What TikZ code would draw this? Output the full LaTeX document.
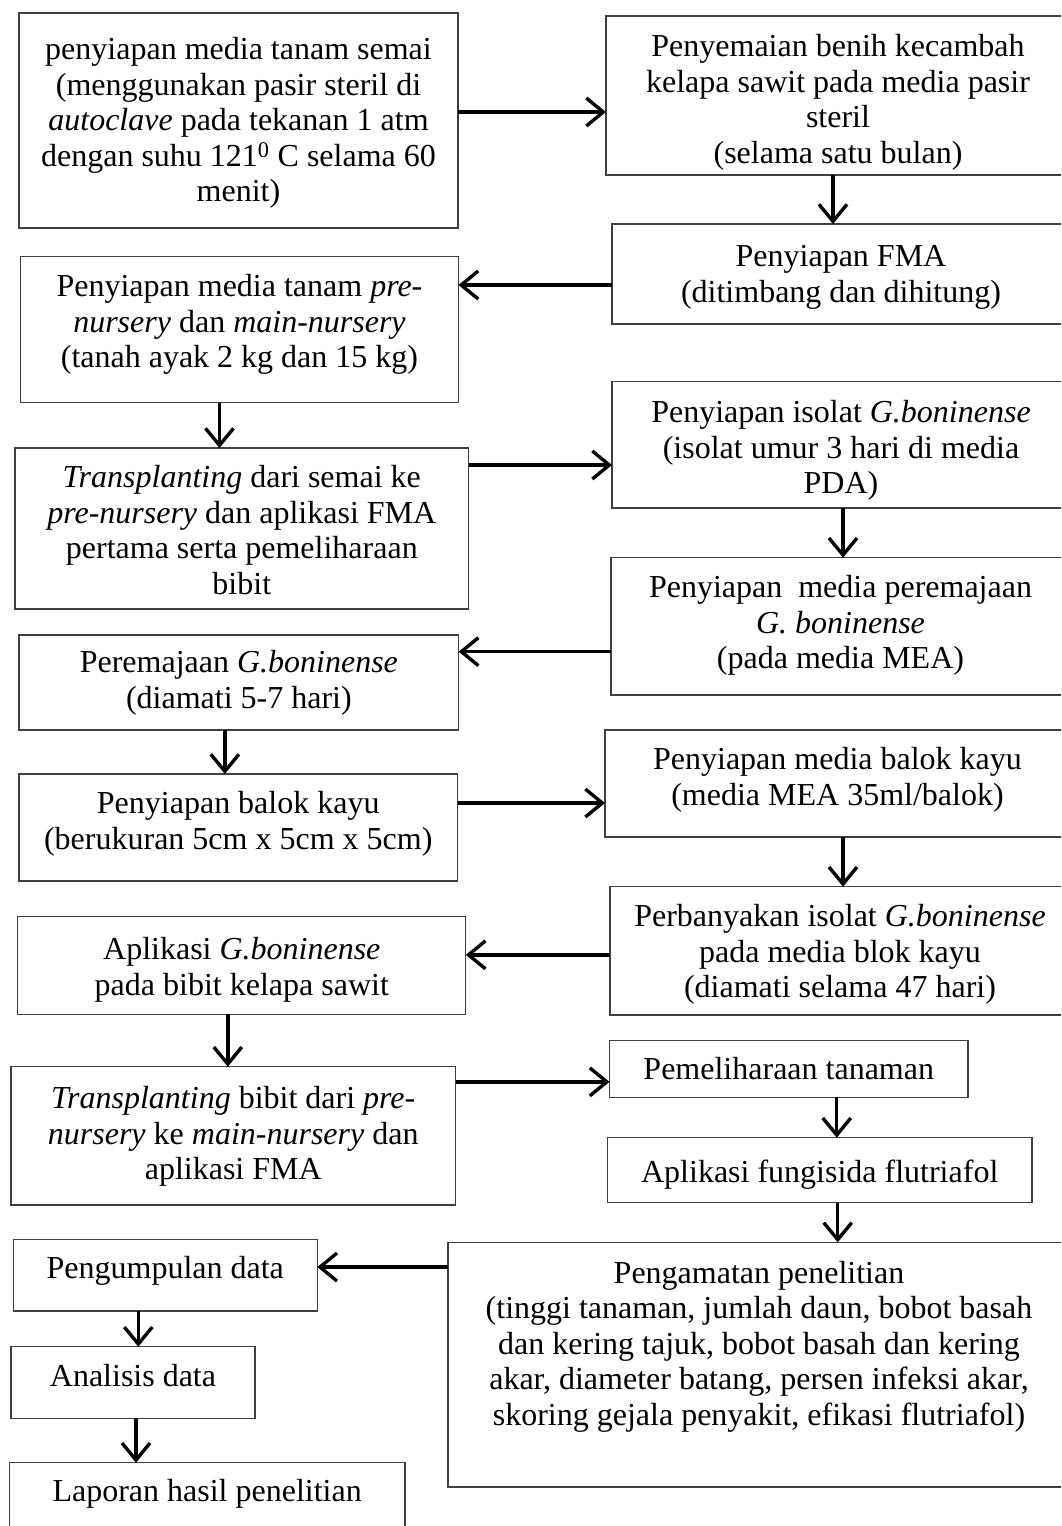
\documentclass[tikz,border=0pt]{standalone}
\usepackage{fontspec}
\setmainfont{Liberation Serif}
\usetikzlibrary{arrows.meta}
\newcommand{\boxtext}[3]{\parbox[t][#1pt][t]{#2pt}{\centering\strut #3}}

\begin{document}
\begin{tikzpicture}[
  x=1pt, y=-1pt,
  box/.style={rectangle, draw=black!75, line width=1.1pt, anchor=north west,
              inner xsep=0pt, inner ysep=13pt, outer sep=0pt,
              font=\fontsize{32pt}{35.5pt}\selectfont},
  arrow/.style={-{Straight Barb[length=17pt, width=28pt]}, line width=3.4pt},
]
\useasboundingbox (0,0) rectangle (1061,1526);
\fill[white] (0,0) rectangle (1061,1526);
\clip (0,0) rectangle (1061,1526);

% Left column
\node[box, inner ysep=22pt] (semai) at (19,13)     {\boxtext{171}{439}{penyiapan media tanam semai\\(menggunakan pasir steril di\\\textit{autoclave} pada tekanan 1 atm\\dengan suhu 121\textsuperscript{0} C selama 60\\menit)}};
\node[box, inner ysep=15pt] (mdt)   at (20.5,256.7) {\boxtext{116}{438}{Penyiapan media tanam \textit{pre-}\\\textit{nursery} dan \textit{main-nursery}\\(tanah ayak 2 kg dan 15 kg)}};
\node[box, inner ysep=15pt] (tps)   at (15,448)    {\boxtext{131}{453.6}{\textit{Transplanting} dari semai ke\\\textit{pre-nursery} dan aplikasi FMA\\pertama serta pemeliharaan\\bibit}};
\node[box]                  (prj)   at (19,635)    {\boxtext{69}{439.7}{Peremajaan \textit{G.boninense}\\(diamati 5-7 hari)}};
\node[box, inner ysep=15pt] (blk)   at (19,774)    {\boxtext{77}{438.5}{Penyiapan balok kayu\\(berukuran 5cm x 5cm x 5cm)}};
\node[box, inner ysep=18pt] (apl)   at (17.8,916.7) {\boxtext{61.6}{448}{Aplikasi \textit{G.boninense}\\pada bibit kelapa sawit}};
\node[box, inner ysep=17pt] (tpb)   at (11,1066.7) {\boxtext{104.3}{444.5}{\textit{Transplanting} bibit dari \textit{pre-}\\\textit{nursery} ke \textit{main-nursery} dan\\aplikasi FMA}};

% Right column
\node[box, inner ysep=16pt] (smn)   at (606,16)    {\boxtext{127}{464}{Penyemaian benih kecambah\\kelapa sawit pada media pasir\\steril\\(selama satu bulan)}};
\node[box, inner ysep=18pt] (fma)   at (612,224)   {\boxtext{64}{458}{Penyiapan FMA\\(ditimbang dan dihitung)}};
\node[box, inner ysep=16pt] (iso)   at (612,381.7) {\boxtext{94.3}{458}{Penyiapan isolat \textit{G.boninense}\\(isolat umur 3 hari di media\\PDA)}};
\node[box, inner ysep=15pt] (mpr)   at (611,557.7) {\boxtext{107.3}{459}{Penyiapan \ media peremajaan\\\textit{G. boninense}\\(pada media MEA)}};
\node[box, inner ysep=15pt] (mbk)   at (605,730)   {\boxtext{77}{465}{Penyiapan media balok kayu\\(media MEA 35ml/balok)}};
\node[box, inner ysep=15pt] (pbi)   at (610,886.7) {\boxtext{98.3}{460}{Perbanyakan isolat \textit{G.boninense}\\pada media blok kayu\\(diamati selama 47 hari)}};
\node[box, inner ysep=14pt] (pml)   at (609.5,1040.7) {\boxtext{28.6}{358.5}{Pemeliharaan tanaman}};
\node[box, inner ysep=20pt] (fgs)   at (607.5,1137.7) {\boxtext{24.3}{424.5}{Aplikasi fungisida flutriafol}};
\node[box, inner ysep=16pt] (pgm)   at (448,1242.3) {\boxtext{212.7}{622}{Pengamatan penelitian\\(tinggi tanaman, jumlah daun, bobot basah\\dan kering tajuk, bobot basah dan kering\\akar, diameter batang, persen infeksi akar,\\skoring gejala penyakit, efikasi flutriafol)}};

% Bottom left
\node[box, inner ysep=14pt] (pgd)   at (13.3,1239.3) {\boxtext{43.7}{304}{Pengumpulan data}};
\node[box, inner ysep=15pt] (ans)   at (11,1346.7)   {\boxtext{41.6}{244}{Analisis data}};
\node[box, inner ysep=14pt] (lpr)   at (9.3,1462.7)  {\boxtext{49.3}{395.7}{Laporan hasil penelitian}};

% Arrows
\coordinate (c1) at ([yshift=8.5pt]semai.east);   \draw[arrow] (c1) -- (c1 -| smn.west);
\coordinate (c2) at ([xshift=-5pt]smn.south);     \draw[arrow] (c2) -- (c2 |- fma.north);
\coordinate (c3) at ([yshift=-11pt]fma.west);     \draw[arrow] (c3) -- (c3 -| mdt.east);
\coordinate (c4) at ([xshift=-20pt]mdt.south);    \draw[arrow] (c4) -- (c4 |- tps.north);
\coordinate (c5) at ([yshift=63.5pt]tps.east);    \draw[arrow] (c5) -- (c5 -| iso.west);
\coordinate (c6) at ([xshift=2pt]iso.south);      \draw[arrow] (c6) -- (c6 |- mpr.north);
\coordinate (c7) at ([yshift=-25.3pt]mpr.west);   \draw[arrow] (c7) -- (c7 -| prj.east);
\coordinate (c8) at ([xshift=-14pt]prj.south);    \draw[arrow] (c8) -- (c8 |- blk.north);
\coordinate (c9) at ([yshift=24.5pt]blk.east);    \draw[arrow] (c9) -- (c9 -| mbk.west);
\coordinate (c10) at ([xshift=5.5pt]mbk.south);   \draw[arrow] (c10) -- (c10 |- pbi.north);
\coordinate (c11) at ([yshift=-4pt]pbi.west);     \draw[arrow] (c11) -- (c11 -| apl.east);
\coordinate (c12) at ([xshift=-14pt]apl.south);   \draw[arrow] (c12) -- (c12 |- tpb.north);
\coordinate (c13) at ([yshift=54pt]tpb.east);     \draw[arrow] (c13) -- (c13 -| pml.west);
\coordinate (c14) at ([xshift=48pt]pml.south);    \draw[arrow] (c14) -- (c14 |- fgs.north);
\coordinate (c15) at ([xshift=18pt]fgs.south);    \draw[arrow] (c15) -- (c15 |- pgm.north);
\coordinate (c16) at ([yshift=97.6pt]pgm.west);   \draw[arrow] (c16) -- (c16 -| pgd.east);
\coordinate (c17) at ([xshift=-27pt]pgd.south);   \draw[arrow] (c17) -- (c17 |- ans.north);
\coordinate (c18) at ([xshift=3pt]ans.south);     \draw[arrow] (c18) -- (c18 |- lpr.north);

\end{tikzpicture}
\end{document}
